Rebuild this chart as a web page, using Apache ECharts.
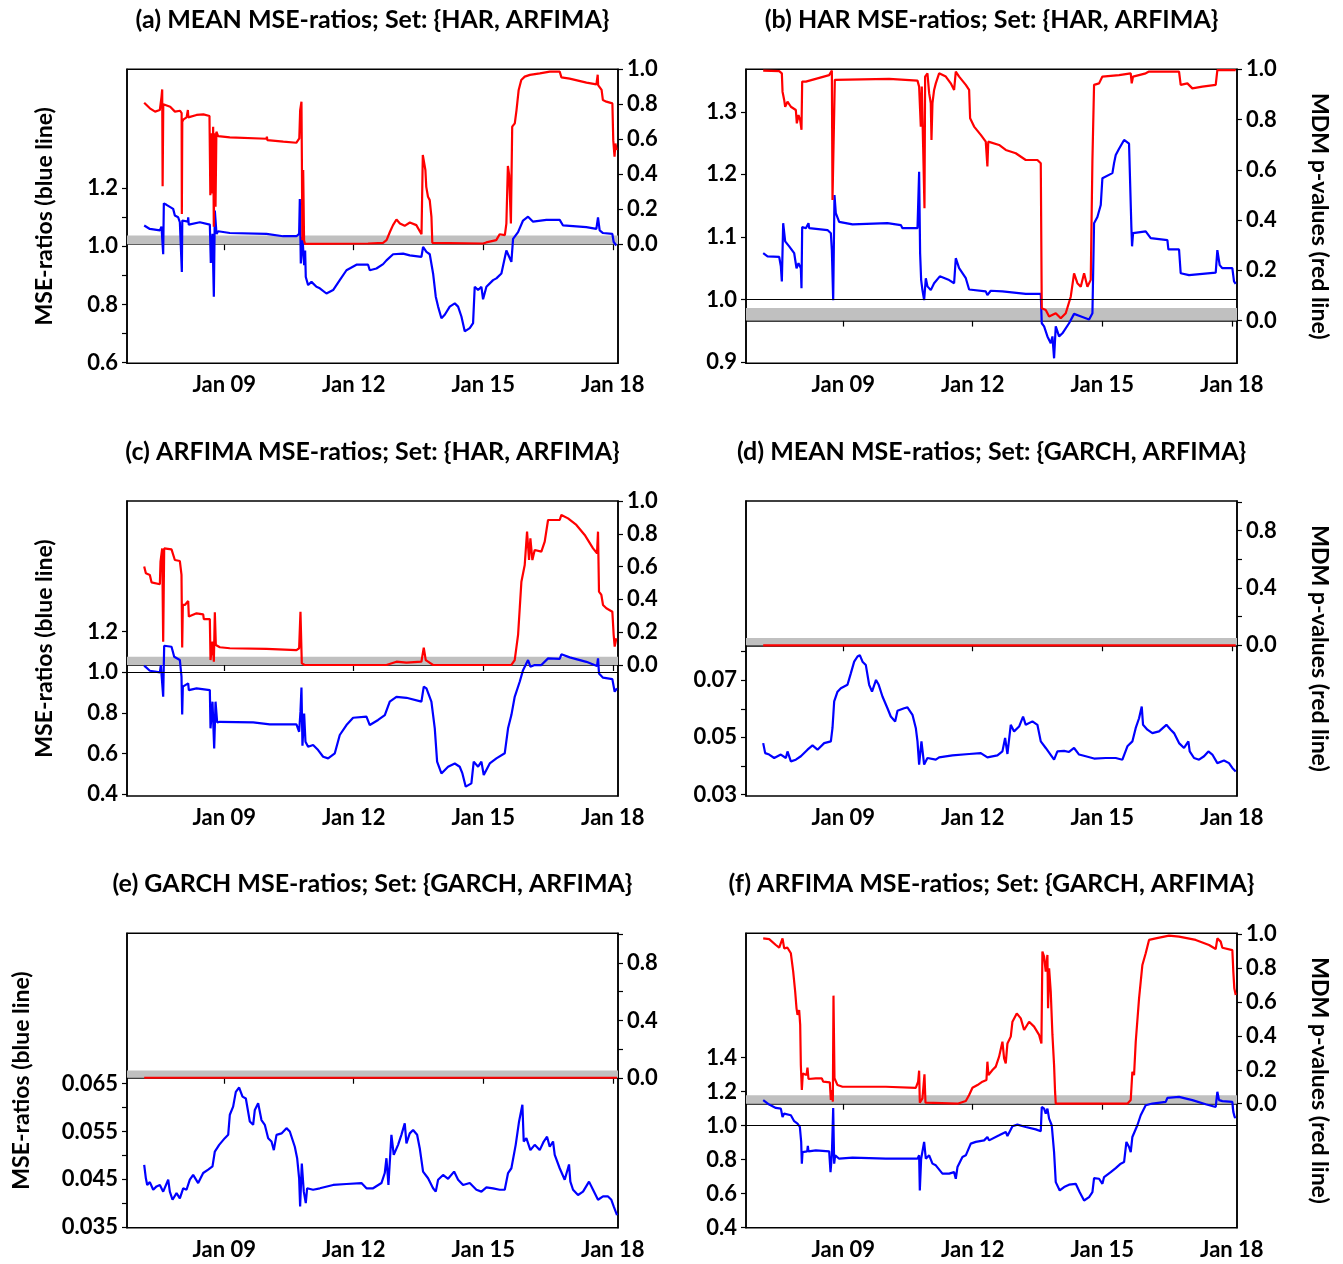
<!DOCTYPE html>
<html><head><meta charset="utf-8">
<script src="https://cdn.jsdelivr.net/npm/echarts@6/dist/echarts.min.js"></script>
<style>html,body{margin:0;padding:0;background:#fff}#c{width:1343px;height:1264px}</style>
</head><body><div id="c"></div><script>
// ---------- tick / label values ----------
const xTickYears = [2009, 2012, 2015, 2018];
const pTicks = [0, 0.2, 0.4, 0.6, 0.8, 1.0];
const pLabelsSparse = [0, 0.4, 0.8];
const aLeftTicks = [0.6, 0.7, 0.8, 0.9, 1.0, 1.1, 1.2];
const aLeftLabels = [0.6, 0.8, 1.0, 1.2];
const bLeftTicks = [0.9, 1.0, 1.1, 1.2, 1.3];
const cLeftTicks = [0.4, 0.6, 0.8, 1.0, 1.2];
const dLeftTicks = [0.03, 0.04, 0.05, 0.06, 0.07, 0.08];
const dLeftLabels = [0.03, 0.05, 0.07];
const eLeftTicks = [0.035, 0.04, 0.045, 0.05, 0.055, 0.06, 0.065];
const eLeftLabels = [0.035, 0.045, 0.055, 0.065];
const fLeftTicks = [0.4, 0.6, 0.8, 1.0, 1.2, 1.4];

// ---------- series values: [year, value] ----------
const aBlue = [[2007.148,1.072],[2007.279,1.060],[2007.511,1.055],[2007.549,1.068],[2007.585,1.068],[2007.588,0.973],[2007.603,1.148],[2007.665,1.143],[2007.819,1.129],[2007.858,1.106],[2007.935,1.10],[2007.974,1.083],[2008.015,1.085],[2008.020,0.912],[2008.030,1.089],[2008.051,1.089],[2008.160,1.085],[2008.167,1.10],[2008.180,1.075],[2008.205,1.075],[2008.437,1.083],[2008.668,1.075],[2008.691,0.943],[2008.730,1.043],[2008.761,0.827],[2008.784,1.123],[2008.823,1.043],[2008.861,1.052],[2009.131,1.046],[2009.980,1.043],[2010.366,1.035],[2010.674,1.035],[2010.736,1.043],[2010.752,1.163],[2010.775,0.941],[2010.813,1.032],[2010.852,0.935],[2010.875,0.986],[2010.890,0.895],[2010.944,0.867],[2011.022,0.878],[2011.137,0.861],[2011.215,0.856],[2011.369,0.838],[2011.523,0.850],[2011.677,0.884],[2011.832,0.918],[2012.063,0.937],[2012.333,0.937],[2012.372,0.918],[2012.526,0.924],[2012.681,0.939],[2012.758,0.952],[2012.912,0.973],[2013.144,0.975],[2013.298,0.969],[2013.568,0.964],[2013.606,0.998],[2013.645,1.003],[2013.684,0.981],[2013.761,0.973],[2013.838,0.907],[2013.900,0.827],[2013.954,0.793],[2014.031,0.753],[2014.108,0.765],[2014.224,0.793],[2014.340,0.804],[2014.417,0.793],[2014.494,0.759],[2014.571,0.708],[2014.687,0.719],[2014.764,0.736],[2014.802,0.861],[2014.880,0.850],[2014.957,0.861],[2014.995,0.818],[2015.073,0.861],[2015.227,0.884],[2015.304,0.890],[2015.420,0.907],[2015.535,0.986],[2015.651,0.947],[2015.690,1.026],[2015.806,1.049],[2015.921,1.089],[2016.037,1.102],[2016.153,1.085],[2016.461,1.091],[2016.770,1.091],[2016.847,1.072],[2017.387,1.066],[2017.619,1.060],[2017.657,1.10],[2017.696,1.055],[2017.773,1.046],[2017.989,1.043],[2018.020,1.015],[2018.082,1.003]];
const aRed = [[2007.148,0.809],[2007.28,0.777],[2007.40,0.758],[2007.51,0.767],[2007.55,0.844],[2007.565,0.885],[2007.575,0.332],[2007.59,0.80],[2007.63,0.80],[2007.75,0.786],[2007.86,0.758],[2007.98,0.763],[2008.015,0.75],[2008.02,0.172],[2008.03,0.70],[2008.06,0.714],[2008.13,0.725],[2008.16,0.767],[2008.17,0.725],[2008.36,0.739],[2008.52,0.742],[2008.66,0.733],[2008.68,0.28],[2008.70,0.634],[2008.72,0.29],[2008.745,0.672],[2008.76,0.10],[2008.78,0.634],[2008.80,0.214],[2008.82,0.643],[2008.86,0.618],[2009.13,0.611],[2009.98,0.603],[2009.99,0.615],[2010.00,0.595],[2010.37,0.586],[2010.67,0.58],[2010.74,0.605],[2010.76,0.767],[2010.79,0.815],[2010.80,0.48],[2010.81,0.023],[2010.83,0.424],[2010.85,0.023],[2010.87,0.002],[2012.33,0.004],[2012.68,0.008],[2012.76,0.023],[2012.84,0.071],[2012.91,0.109],[2012.99,0.141],[2013.07,0.118],[2013.18,0.105],[2013.30,0.124],[2013.45,0.109],[2013.57,0.057],[2013.60,0.51],[2013.64,0.50],[2013.66,0.424],[2013.68,0.328],[2013.72,0.271],[2013.76,0.252],[2013.80,0.156],[2013.82,0.008],[2013.84,0.002],[2015.00,0.004],[2015.07,0.01],[2015.30,0.023],[2015.38,0.057],[2015.50,0.052],[2015.535,0.118],[2015.57,0.447],[2015.60,0.395],[2015.64,0.118],[2015.67,0.672],[2015.73,0.691],[2015.77,0.767],[2015.82,0.882],[2015.88,0.939],[2015.96,0.958],[2016.08,0.968],[2016.31,0.977],[2016.54,0.987],[2016.77,0.987],[2016.81,0.954],[2017.00,0.947],[2017.39,0.924],[2017.62,0.914],[2017.65,0.969],[2017.66,0.91],[2017.70,0.905],[2017.74,0.882],[2017.77,0.824],[2017.85,0.815],[2017.99,0.805],[2018.01,0.595],[2018.04,0.50],[2018.06,0.576],[2018.09,0.538]];

const bBlue = [[2007.148,1.074],[2007.248,1.069],[2007.519,1.068],[2007.557,1.053],[2007.58,1.029],[2007.611,1.122],[2007.657,1.093],[2007.75,1.085],[2007.866,1.074],[2007.92,1.05],[2007.966,1.058],[2008.02,1.05],[2008.035,1.018],[2008.051,1.116],[2008.136,1.114],[2008.197,1.122],[2008.213,1.114],[2008.637,1.111],[2008.715,1.106],[2008.738,1.079],[2008.769,0.999],[2008.799,1.167],[2008.830,1.138],[2008.907,1.124],[2009.216,1.120],[2010.026,1.122],[2010.065,1.119],[2010.335,1.119],[2010.373,1.114],[2010.721,1.114],[2010.759,1.204],[2010.782,1.074],[2010.806,1.031],[2010.836,1.015],[2010.875,0.999],[2010.914,1.034],[2010.952,1.021],[2011.029,1.015],[2011.106,1.026],[2011.238,1.037],[2011.454,1.031],[2011.569,1.026],[2011.608,1.066],[2011.685,1.05],[2011.840,1.034],[2011.917,1.016],[2012.302,1.013],[2012.340,1.007],[2012.417,1.014],[2012.688,1.013],[2013.228,1.009],[2013.576,1.009],[2013.599,0.962],[2013.653,0.957],[2013.730,0.941],[2013.807,0.930],[2013.846,0.941],[2013.884,0.906],[2013.923,0.957],[2014.000,0.941],[2014.077,0.946],[2014.231,0.962],[2014.347,0.977],[2014.540,0.972],[2014.695,0.968],[2014.772,0.978],[2014.810,1.122],[2014.887,1.132],[2014.965,1.151],[2015.003,1.194],[2015.235,1.202],[2015.273,1.218],[2015.312,1.231],[2015.389,1.241],[2015.505,1.255],[2015.620,1.249],[2015.659,1.247],[2015.674,1.116],[2015.690,1.085],[2015.713,1.106],[2016.006,1.109],[2016.122,1.098],[2016.508,1.095],[2016.531,1.080],[2016.778,1.080],[2016.816,1.042],[2017.009,1.039],[2017.627,1.043],[2017.665,1.079],[2017.719,1.055],[2017.781,1.05],[2018.012,1.05],[2018.051,1.029],[2018.090,1.025]];
const bRed = [[2007.148,0.995],[2007.519,0.993],[2007.58,0.984],[2007.596,0.911],[2007.634,0.878],[2007.657,0.851],[2007.711,0.871],[2007.789,0.851],[2007.904,0.838],[2007.927,0.785],[2007.966,0.818],[2008.005,0.798],[2008.035,0.759],[2008.051,0.951],[2008.136,0.951],[2008.174,0.958],[2008.676,0.977],[2008.738,0.995],[2008.753,0.48],[2008.776,0.48],[2008.807,0.958],[2008.830,0.964],[2010.065,0.962],[2010.721,0.955],[2010.759,0.931],[2010.798,0.772],[2010.821,0.931],[2010.852,0.692],[2010.883,0.447],[2010.898,0.971],[2010.952,0.984],[2010.991,0.905],[2011.029,0.865],[2011.045,0.719],[2011.068,0.865],[2011.106,0.918],[2011.145,0.944],[2011.222,0.984],[2011.377,0.971],[2011.492,0.944],[2011.569,0.918],[2011.608,0.991],[2011.685,0.971],[2011.840,0.938],[2011.917,0.918],[2011.940,0.805],[2012.032,0.772],[2012.187,0.739],[2012.302,0.712],[2012.340,0.613],[2012.360,0.712],[2012.611,0.699],[2012.765,0.679],[2012.997,0.666],[2013.228,0.639],[2013.498,0.639],[2013.576,0.626],[2013.599,0.049],[2013.691,0.042],[2013.769,0.016],[2013.923,0.029],[2014.039,0.009],[2014.154,0.029],[2014.270,0.095],[2014.347,0.188],[2014.424,0.149],[2014.502,0.135],[2014.579,0.188],[2014.656,0.135],[2014.733,0.162],[2014.772,0.639],[2014.810,0.938],[2014.926,0.944],[2015.003,0.971],[2015.389,0.977],[2015.659,0.984],[2015.682,0.944],[2015.713,0.971],[2016.006,0.984],[2016.083,0.991],[2016.778,0.991],[2016.816,0.938],[2016.971,0.944],[2017.086,0.924],[2017.318,0.931],[2017.627,0.938],[2017.665,0.997],[2018.090,0.997]];

const cBlue = [[2007.148,1.033],[2007.279,1.008],[2007.511,1.0],[2007.534,1.036],[2007.588,0.880],[2007.611,1.131],[2007.781,1.126],[2007.843,1.077],[2007.974,1.061],[2008.012,0.979],[2008.028,0.793],[2008.043,0.93],[2008.167,0.946],[2008.182,0.913],[2008.360,0.921],[2008.668,0.913],[2008.684,0.725],[2008.730,0.856],[2008.769,0.626],[2008.800,0.856],[2008.838,0.754],[2008.900,0.757],[2009.671,0.754],[2010.057,0.744],[2010.674,0.744],[2010.736,0.708],[2010.767,0.807],[2010.790,0.925],[2010.813,0.639],[2010.852,0.798],[2010.883,0.659],[2010.944,0.634],[2011.060,0.643],[2011.176,0.618],[2011.292,0.585],[2011.407,0.577],[2011.562,0.602],[2011.677,0.692],[2011.832,0.741],[2011.986,0.777],[2012.295,0.782],[2012.372,0.741],[2012.565,0.766],[2012.720,0.790],[2012.835,0.856],[2012.989,0.880],[2013.221,0.875],[2013.568,0.856],[2013.622,0.930],[2013.684,0.921],[2013.799,0.856],[2013.877,0.725],[2013.931,0.561],[2014.031,0.503],[2014.185,0.536],[2014.340,0.552],[2014.455,0.536],[2014.517,0.503],[2014.594,0.438],[2014.725,0.454],[2014.779,0.561],[2014.880,0.536],[2014.957,0.561],[2015.011,0.495],[2015.150,0.552],[2015.304,0.577],[2015.497,0.602],[2015.574,0.725],[2015.651,0.790],[2015.728,0.880],[2015.844,0.954],[2015.921,1.011],[2016.037,1.061],[2016.091,1.028],[2016.191,1.036],[2016.345,1.036],[2016.500,1.069],[2016.770,1.066],[2016.809,1.089],[2017.002,1.074],[2017.387,1.052],[2017.634,1.031],[2017.657,1.069],[2017.680,0.995],[2017.773,0.974],[2017.989,0.967],[2018.043,0.905],[2018.097,0.921]];
const cRed = [[2007.148,0.60],[2007.187,0.559],[2007.279,0.549],[2007.318,0.504],[2007.511,0.492],[2007.526,0.63],[2007.565,0.711],[2007.588,0.142],[2007.611,0.711],[2007.781,0.705],[2007.858,0.64],[2007.974,0.634],[2008.012,0.549],[2008.028,0.106],[2008.043,0.366],[2008.090,0.366],[2008.167,0.39],[2008.182,0.295],[2008.360,0.315],[2008.514,0.309],[2008.529,0.280],[2008.668,0.280],[2008.684,0.03],[2008.730,0.142],[2008.761,0.02],[2008.784,0.321],[2008.807,0.122],[2008.838,0.112],[2008.900,0.108],[2009.131,0.102],[2009.980,0.098],[2010.674,0.091],[2010.736,0.102],[2010.767,0.325],[2010.798,0.01],[2010.867,0.0],[2012.758,0.0],[2012.989,0.02],[2013.221,0.014],[2013.568,0.02],[2013.622,0.106],[2013.668,0.03],[2013.722,0.02],[2013.838,0.0],[2015.651,0.0],[2015.728,0.03],[2015.806,0.183],[2015.883,0.508],[2015.960,0.61],[2016.014,0.813],[2016.060,0.64],[2016.091,0.772],[2016.137,0.64],[2016.191,0.701],[2016.345,0.691],[2016.423,0.752],[2016.500,0.884],[2016.770,0.884],[2016.809,0.915],[2016.963,0.894],[2017.156,0.854],[2017.349,0.793],[2017.542,0.711],[2017.634,0.681],[2017.657,0.813],[2017.680,0.447],[2017.735,0.427],[2017.773,0.366],[2017.850,0.346],[2017.989,0.325],[2018.020,0.183],[2018.043,0.112],[2018.082,0.163]];

const dBlue = [[2007.148,0.0480],[2007.194,0.0445],[2007.287,0.0440],[2007.403,0.0428],[2007.557,0.0440],[2007.673,0.0428],[2007.711,0.0451],[2007.789,0.0416],[2007.904,0.0422],[2008.020,0.0434],[2008.174,0.0457],[2008.290,0.0472],[2008.406,0.0457],[2008.560,0.0480],[2008.715,0.0486],[2008.753,0.0533],[2008.792,0.0626],[2008.869,0.0660],[2008.946,0.0672],[2009.100,0.0684],[2009.177,0.0724],[2009.255,0.0765],[2009.332,0.0783],[2009.386,0.0788],[2009.448,0.0765],[2009.525,0.0753],[2009.602,0.0684],[2009.668,0.0660],[2009.761,0.0701],[2009.823,0.0684],[2009.910,0.0643],[2010.026,0.0602],[2010.103,0.0573],[2010.204,0.0556],[2010.258,0.0593],[2010.412,0.0602],[2010.489,0.0605],[2010.605,0.0579],[2010.682,0.0533],[2010.721,0.0486],[2010.759,0.0405],[2010.813,0.0486],[2010.875,0.0405],[2010.952,0.0428],[2011.145,0.0422],[2011.222,0.0430],[2011.531,0.0437],[2011.917,0.0442],[2012.187,0.0445],[2012.340,0.0430],[2012.572,0.0437],[2012.688,0.0451],[2012.750,0.0498],[2012.804,0.0442],[2012.881,0.0544],[2012.958,0.0521],[2013.074,0.0538],[2013.166,0.0573],[2013.228,0.0544],[2013.383,0.0556],[2013.498,0.0544],[2013.576,0.0486],[2013.691,0.0463],[2013.884,0.0422],[2013.961,0.0451],[2014.116,0.0453],[2014.231,0.0449],[2014.347,0.0463],[2014.463,0.0440],[2014.617,0.0434],[2014.810,0.0426],[2015.080,0.0428],[2015.312,0.0428],[2015.466,0.0422],[2015.582,0.0469],[2015.697,0.0486],[2015.775,0.0533],[2015.852,0.0567],[2015.914,0.0608],[2015.944,0.0544],[2016.045,0.0527],[2016.160,0.0515],[2016.315,0.0521],[2016.485,0.0544],[2016.585,0.0527],[2016.662,0.0515],[2016.778,0.0480],[2016.894,0.0463],[2016.994,0.0486],[2017.025,0.0451],[2017.125,0.0428],[2017.241,0.0422],[2017.357,0.0434],[2017.457,0.0451],[2017.549,0.0440],[2017.665,0.0410],[2017.819,0.0419],[2017.935,0.0410],[2018.012,0.0393],[2018.090,0.0381]];
const dRed = [[2007.148,0.0],[2018.090,0.0]];

const eBlue = [[2007.148,0.0480],[2007.187,0.0452],[2007.218,0.0438],[2007.279,0.0444],[2007.357,0.0428],[2007.434,0.0435],[2007.511,0.0438],[2007.588,0.0424],[2007.704,0.0449],[2007.742,0.0424],[2007.804,0.0407],[2007.897,0.0421],[2007.974,0.0410],[2008.051,0.0431],[2008.128,0.0428],[2008.205,0.0449],[2008.282,0.0459],[2008.398,0.0442],[2008.514,0.0463],[2008.630,0.0470],[2008.730,0.0477],[2008.784,0.0508],[2008.884,0.0522],[2009.015,0.0536],[2009.093,0.0543],[2009.131,0.0585],[2009.208,0.0602],[2009.270,0.0633],[2009.347,0.0642],[2009.425,0.0623],[2009.502,0.0619],[2009.594,0.0571],[2009.671,0.0564],[2009.710,0.0595],[2009.787,0.0609],[2009.864,0.0574],[2009.941,0.0564],[2010.019,0.0536],[2010.096,0.0529],[2010.150,0.0511],[2010.212,0.0543],[2010.328,0.0546],[2010.443,0.0557],[2010.520,0.0550],[2010.636,0.0518],[2010.690,0.0494],[2010.736,0.0452],[2010.759,0.0393],[2010.798,0.0483],[2010.844,0.0424],[2010.890,0.0400],[2010.921,0.0431],[2011.060,0.0428],[2011.215,0.0431],[2011.523,0.0438],[2011.832,0.0440],[2012.179,0.0442],[2012.295,0.0431],[2012.449,0.0431],[2012.642,0.0442],[2012.719,0.0463],[2012.758,0.0494],[2012.804,0.0438],[2012.873,0.0543],[2012.927,0.0501],[2013.027,0.0522],[2013.104,0.0543],[2013.182,0.0567],[2013.221,0.0525],[2013.298,0.0546],[2013.375,0.0553],[2013.468,0.0543],[2013.529,0.0515],[2013.606,0.0466],[2013.722,0.0452],[2013.838,0.0431],[2013.900,0.0424],[2013.954,0.0449],[2014.069,0.0459],[2014.185,0.0451],[2014.324,0.0466],[2014.417,0.0449],[2014.532,0.0438],[2014.687,0.0442],[2014.841,0.0428],[2014.957,0.0424],[2015.073,0.0433],[2015.227,0.0431],[2015.381,0.0428],[2015.497,0.0428],[2015.574,0.0463],[2015.651,0.0473],[2015.751,0.0522],[2015.829,0.0571],[2015.906,0.0606],[2015.937,0.0529],[2015.998,0.0536],[2016.091,0.0511],[2016.191,0.0522],[2016.307,0.0511],[2016.400,0.0529],[2016.477,0.0539],[2016.539,0.0518],[2016.616,0.0529],[2016.655,0.0501],[2016.770,0.0473],[2016.886,0.0449],[2016.986,0.0481],[2017.017,0.0445],[2017.079,0.0428],[2017.194,0.0417],[2017.310,0.0424],[2017.449,0.0445],[2017.542,0.0428],[2017.657,0.0407],[2017.773,0.0414],[2017.889,0.0414],[2017.966,0.0407],[2018.020,0.0393],[2018.097,0.0375]];
const eRed = [[2007.148,0.0],[2018.097,0.0]];

const fBlue = [[2007.148,1.150],[2007.287,1.124],[2007.441,1.104],[2007.557,1.100],[2007.596,1.051],[2007.634,1.071],[2007.789,1.061],[2007.866,1.026],[2007.943,1.012],[2007.997,0.992],[2008.028,0.904],[2008.043,0.776],[2008.059,0.844],[2008.167,0.848],[2008.182,0.880],[2008.197,0.848],[2008.367,0.854],[2008.676,0.848],[2008.707,0.726],[2008.738,0.825],[2008.769,1.104],[2008.792,0.776],[2008.815,0.825],[2008.907,0.805],[2009.216,0.811],[2009.988,0.805],[2010.721,0.805],[2010.759,0.825],[2010.775,0.618],[2010.806,0.805],[2010.875,0.904],[2010.914,0.805],[2010.991,0.825],[2011.068,0.776],[2011.145,0.766],[2011.299,0.717],[2011.454,0.717],[2011.569,0.726],[2011.608,0.687],[2011.647,0.756],[2011.762,0.815],[2011.840,0.825],[2011.955,0.894],[2012.071,0.904],[2012.264,0.913],[2012.340,0.933],[2012.379,0.913],[2012.611,0.943],[2012.765,0.963],[2012.804,0.939],[2012.920,0.996],[2013.035,1.006],[2013.228,0.992],[2013.460,0.978],[2013.576,0.967],[2013.599,1.110],[2013.653,1.100],[2013.691,1.071],[2013.730,1.100],[2013.769,1.041],[2013.830,1.002],[2013.884,0.844],[2013.923,0.667],[2014.015,0.618],[2014.116,0.638],[2014.231,0.652],[2014.386,0.657],[2014.478,0.608],[2014.579,0.559],[2014.695,0.579],[2014.772,0.608],[2014.810,0.691],[2014.926,0.687],[2015.003,0.657],[2015.042,0.697],[2015.196,0.726],[2015.312,0.750],[2015.428,0.776],[2015.505,0.785],[2015.559,0.904],[2015.620,0.874],[2015.659,0.844],[2015.697,0.933],[2015.813,1.002],[2015.890,1.061],[2016.006,1.120],[2016.160,1.130],[2016.469,1.140],[2016.508,1.163],[2016.778,1.169],[2017.086,1.150],[2017.395,1.126],[2017.627,1.110],[2017.665,1.199],[2017.704,1.150],[2017.781,1.144],[2018.012,1.140],[2018.035,1.081],[2018.066,1.051],[2018.090,1.045]];
const fRed = [[2007.148,0.976],[2007.287,0.972],[2007.441,0.937],[2007.519,0.921],[2007.596,0.976],[2007.634,0.917],[2007.711,0.921],[2007.789,0.888],[2007.843,0.780],[2007.889,0.661],[2007.920,0.563],[2007.943,0.524],[2007.981,0.553],[2008.005,0.465],[2008.020,0.228],[2008.043,0.081],[2008.066,0.179],[2008.151,0.169],[2008.174,0.213],[2008.197,0.146],[2008.367,0.150],[2008.506,0.150],[2008.537,0.130],[2008.691,0.126],[2008.715,0.022],[2008.738,0.081],[2008.761,0.012],[2008.776,0.638],[2008.799,0.150],[2008.869,0.110],[2008.985,0.100],[2009.988,0.100],[2010.682,0.094],[2010.736,0.130],[2010.759,0.195],[2010.775,0.006],[2010.836,0.031],[2010.883,0.173],[2010.906,0.006],[2010.952,0.0],[2011.647,0.0],[2011.840,0.016],[2011.917,0.051],[2011.994,0.094],[2012.110,0.110],[2012.225,0.130],[2012.318,0.140],[2012.340,0.248],[2012.364,0.169],[2012.457,0.199],[2012.534,0.219],[2012.611,0.278],[2012.688,0.366],[2012.727,0.268],[2012.765,0.238],[2012.804,0.356],[2012.881,0.396],[2012.920,0.484],[2013.020,0.533],[2013.113,0.504],[2013.190,0.435],[2013.306,0.484],[2013.421,0.455],[2013.537,0.406],[2013.591,0.356],[2013.614,0.898],[2013.653,0.868],[2013.691,0.780],[2013.730,0.878],[2013.745,0.563],[2013.769,0.799],[2013.807,0.661],[2013.846,0.406],[2013.884,0.228],[2013.907,0.071],[2013.923,0.0],[2015.582,0.0],[2015.659,0.022],[2015.697,0.189],[2015.736,0.169],[2015.775,0.366],[2015.852,0.622],[2015.929,0.819],[2016.006,0.888],[2016.083,0.967],[2016.238,0.976],[2016.546,0.992],[2016.778,0.986],[2017.164,0.967],[2017.472,0.937],[2017.627,0.913],[2017.665,0.976],[2017.742,0.957],[2017.781,0.921],[2018.012,0.907],[2018.035,0.780],[2018.058,0.681],[2018.090,0.642]];

// ---------- layout / style ----------
const FONT = 'Lato';
const colLeft = [127, 746];
const rowTop = [69.3, 501, 933.3];
const rowH = [294, 295, 294.4];
const plotW = 491;

const panels = [
  {title:'(a) MEAN MSE-ratios; Set: {HAR, ARFIMA}', col:0, row:0, blue:aBlue, red:aRed,
   lMin:0.598, lMax:1.609, lTicks:aLeftTicks, lLabels:aLeftLabels, lDec:1,
   rMin:-0.681, rMax:1.0, rTicks:pTicks, rLabels:pTicks, leftName:true, nameGap:71, oneLine:false},
  {title:'(b) HAR MSE-ratios; Set: {HAR, ARFIMA}', col:1, row:0, blue:bBlue, red:bRed,
   lMin:0.898, lMax:1.368, lTicks:bLeftTicks, lLabels:bLeftTicks, lDec:1,
   rMin:-0.170, rMax:1.0, rTicks:pTicks, rLabels:pTicks, leftName:false, oneLine:true},
  {title:'(c) ARFIMA MSE-ratios; Set: {HAR, ARFIMA}', col:0, row:1, blue:cBlue, red:cRed,
   lMin:0.392, lMax:1.843, lTicks:cLeftTicks, lLabels:cLeftTicks, lDec:1,
   rMin:-0.799, rMax:1.0, rTicks:pTicks, rLabels:pTicks, leftName:true, nameGap:71, oneLine:true},
  {title:'(d) MEAN MSE-ratios; Set: {GARCH, ARFIMA}', col:1, row:1, blue:dBlue, red:dRed,
   lMin:0.0295, lMax:0.1327, lTicks:dLeftTicks, lLabels:dLeftLabels, lDec:2,
   rMin:-1.052, rMax:1.007, rTicks:pTicks, rLabels:pLabelsSparse, leftName:false, oneLine:false},
  {title:'(e) GARCH MSE-ratios; Set: {GARCH, ARFIMA}', col:0, row:2, blue:eBlue, red:eRed,
   lMin:0.03485, lMax:0.0965, lTicks:eLeftTicks, lLabels:eLeftLabels, lDec:3,
   rMin:-1.046, rMax:1.0077, rTicks:pTicks, rLabels:pLabelsSparse, leftName:true, nameGap:94, oneLine:false},
  {title:'(f) ARFIMA MSE-ratios; Set: {GARCH, ARFIMA}', col:1, row:2, blue:fBlue, red:fRed,
   lMin:0.3986, lMax:2.133, lTicks:fLeftTicks, lLabels:fLeftTicks, lDec:1,
   rMin:-0.732, rMax:1.006, rTicks:pTicks, rLabels:pTicks, leftName:false, oneLine:true}
];

const labelStyle = {color:'#000', fontWeight:'bold', fontSize:22, fontFamily:FONT};
const nameStyle = {color:'#000', fontWeight:'bold', fontSize:23, fontFamily:FONT};
const tickLine = {color:'#000', width:1.2};

const option = {animation:false, backgroundColor:'#fff', title:[], grid:[], xAxis:[], yAxis:[], series:[]};

panels.forEach((p, i) => {
  const left = colLeft[p.col], top = rowTop[p.row], h = rowH[p.row];
  option.title.push({text:p.title, left:left + plotW/2, top:top - 61.5, textAlign:'center', padding:0,
    textStyle:{color:'#000', fontWeight:'bold', fontSize:25, fontFamily:FONT}});
  option.grid.push({left:left, top:top, width:plotW, height:h, show:true,
    borderColor:'#000', borderWidth:1.5, backgroundColor:'transparent', containLabel:false});
  option.xAxis.push({type:'value', gridIndex:i, min:2006.75, max:2018.12,
    axisLine:{show:true, lineStyle:{color:'#000', width:1.5}},
    axisTick:{show:true, length:6, lineStyle:tickLine, customValues:xTickYears},
    axisLabel:Object.assign({show:true, margin:11, customValues:xTickYears,
      formatter:v => 'Jan ' + String(Math.round(v) % 100).padStart(2, '0')}, labelStyle),
    splitLine:{show:false}});
  const lAxis = {type:'value', gridIndex:i, position:'left', min:p.lMin, max:p.lMax,
    axisLine:{show:true, lineStyle:{color:'#000', width:1.5}},
    axisTick:{show:true, length:5, lineStyle:tickLine, customValues:p.lTicks},
    axisLabel:Object.assign({show:true, margin:9, customValues:p.lLabels,
      formatter:v => v.toFixed(p.lDec)}, labelStyle),
    splitLine:{show:false}};
  if (p.leftName) {
    Object.assign(lAxis, {name:'MSE-ratios (blue line)', nameLocation:'middle', nameRotate:90,
      nameGap:p.nameGap, nameTextStyle:nameStyle});
  }
  const rAxis = {type:'value', gridIndex:i, position:'right', min:p.rMin, max:p.rMax,
    axisLine:{show:true, lineStyle:{color:'#000', width:1.5}},
    axisTick:{show:true, length:5, lineStyle:tickLine, customValues:p.rTicks},
    axisLabel:Object.assign({show:true, margin:9, customValues:p.rLabels,
      formatter:v => v.toFixed(1)}, labelStyle),
    splitLine:{show:false}};
  if (!p.leftName) {
    Object.assign(rAxis, {name:'MDM p-values (red line)', nameLocation:'middle', nameRotate:-90,
      nameGap:71, nameTextStyle:nameStyle});
  }
  option.yAxis.push(lAxis, rAxis);
  const li = 2*i, ri = 2*i + 1;
  // 5% significance band on the p-value axis
  option.series.push({type:'line', xAxisIndex:i, yAxisIndex:ri, data:[], silent:true, z:1,
    markArea:{silent:true, itemStyle:{color:'#c0c0c0'}, data:[[{yAxis:0}, {yAxis:0.05}]]}});
  if (p.oneLine) {
    option.series.push({type:'line', xAxisIndex:i, yAxisIndex:li, data:[], silent:true, z:2,
      markLine:{silent:true, symbol:['none','none'], label:{show:false},
        lineStyle:{color:'#000', width:1.2, type:'solid'}, data:[{yAxis:1}]}});
  }
  option.series.push({type:'line', xAxisIndex:i, yAxisIndex:li, data:p.blue, showSymbol:false, symbol:'none',
    silent:true, z:3, lineStyle:{color:'#0000ff', width:2.2}, itemStyle:{color:'#0000ff'}});
  option.series.push({type:'line', xAxisIndex:i, yAxisIndex:ri, data:p.red, showSymbol:false, symbol:'none',
    silent:true, z:4, lineStyle:{color:'#ff0000', width:2.2}, itemStyle:{color:'#ff0000'}});
});

const chart = echarts.init(document.getElementById('c'));
chart.setOption(option);
</script></body></html>
